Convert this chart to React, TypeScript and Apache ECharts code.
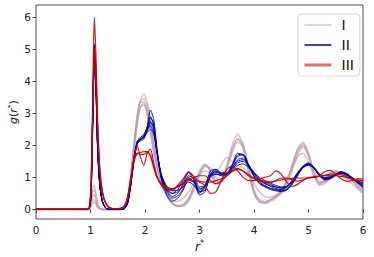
import React, { useEffect, useRef } from "react";
import * as echarts from "echarts";

// r* sample positions shared by all curves
const R = [
  0, 0.95, 0.98, 1.01, 1.04, 1.07, 1.1, 1.13, 1.17, 1.22,
  1.28, 1.35, 1.45, 1.55, 1.62, 1.68, 1.74, 1.8, 1.86, 1.92,
  1.98, 2.04, 2.1, 2.16, 2.22, 2.3, 2.4, 2.5, 2.6, 2.7,
  2.8, 2.9, 3.0, 3.1, 3.2, 3.3, 3.4, 3.5, 3.6, 3.7,
  3.8, 3.9, 4.0, 4.1, 4.2, 4.3, 4.4, 4.5, 4.6, 4.7,
  4.8, 4.9, 5.0, 5.1, 5.2, 5.3, 5.4, 5.5, 5.6, 5.7,
  5.8, 5.9, 6.0,
];

// Group I curves
const I1 = [
  0, 0, 0.05, 0.3, 0.65, 0.75, 0.5, 0.2, 0.05, 0,
  0, 0, 0, 0, 0.05, 0.3, 1.0, 2.0, 2.9, 3.45,
  3.6, 3.35, 2.8, 2.1, 1.5, 0.9, 0.45, 0.2, 0.1, 0.12,
  0.3, 0.7, 1.15, 1.4, 1.2, 0.8, 0.85, 1.35, 2.0, 2.35,
  2.0, 1.2, 0.5, 0.22, 0.2, 0.3, 0.4, 0.6, 0.9, 1.4,
  1.9, 2.1, 1.7, 1.1, 0.8, 0.9, 1.1, 1.2, 1.15, 1.0,
  0.9, 0.7, 0.5,
];
const I2 = [
  0, 0, 0.03, 0.2, 0.4, 0.45, 0.3, 0.12, 0.03, 0,
  0, 0, 0, 0, 0.06, 0.35, 1.1, 2.1, 2.95, 3.35,
  3.35, 3.0, 2.4, 1.8, 1.3, 0.8, 0.4, 0.18, 0.1, 0.15,
  0.35, 0.75, 1.2, 1.42, 1.2, 0.85, 0.9, 1.35, 1.9, 2.2,
  1.9, 1.15, 0.5, 0.25, 0.22, 0.3, 0.4, 0.55, 0.85, 1.3,
  1.8, 2.0, 1.65, 1.1, 0.78, 0.85, 1.05, 1.15, 1.15, 1.05,
  0.9, 0.72, 0.55,
];
const I3 = [
  0, 0, 0.02, 0.12, 0.28, 0.3, 0.2, 0.08, 0.02, 0,
  0, 0, 0, 0, 0.04, 0.25, 0.85, 1.8, 2.7, 3.2,
  3.3, 3.1, 2.6, 2.0, 1.45, 0.9, 0.45, 0.2, 0.1, 0.1,
  0.25, 0.6, 1.05, 1.35, 1.3, 1.0, 0.9, 1.25, 1.75, 2.1,
  1.95, 1.3, 0.6, 0.3, 0.25, 0.3, 0.38, 0.5, 0.75, 1.2,
  1.7, 1.95, 1.7, 1.2, 0.85, 0.85, 1.0, 1.1, 1.12, 1.05,
  0.92, 0.75, 0.6,
];
const I4 = [
  0, 0, 0.02, 0.1, 0.2, 0.22, 0.15, 0.06, 0.02, 0,
  0, 0, 0, 0, 0.05, 0.3, 0.95, 1.9, 2.75, 3.2,
  3.25, 2.95, 2.4, 1.8, 1.3, 0.85, 0.5, 0.3, 0.25, 0.35,
  0.55, 0.85, 1.1, 1.2, 1.15, 1.15, 1.4, 1.62, 1.5, 1.35,
  1.3, 1.1, 0.8, 0.55, 0.4, 0.38, 0.45, 0.6, 0.9, 1.3,
  1.65, 1.75, 1.45, 1.05, 0.85, 0.95, 1.15, 1.2, 1.1, 0.95,
  0.8, 0.65, 0.5,
];
const I5 = [
  0, 0, 0.04, 0.25, 0.55, 0.6, 0.4, 0.15, 0.04, 0,
  0, 0, 0, 0, 0.05, 0.32, 1.05, 2.05, 2.95, 3.4,
  3.45, 3.2, 2.65, 2.0, 1.4, 0.85, 0.42, 0.2, 0.12, 0.15,
  0.32, 0.68, 1.1, 1.35, 1.25, 0.9, 0.85, 1.3, 1.85, 2.2,
  2.05, 1.35, 0.6, 0.25, 0.18, 0.25, 0.35, 0.55, 0.85, 1.35,
  1.85, 2.05, 1.75, 1.15, 0.75, 0.8, 1.0, 1.15, 1.18, 1.1,
  0.95, 0.8, 0.6,
];

// Group II curves
const II1 = [
  0, 0, 0.05, 0.6, 3.0, 5.15, 4.0, 2.0, 0.8, 0.25,
  0.05, 0, 0, 0, 0.02, 0.2, 0.8, 1.6, 2.1, 2.2,
  2.3, 2.6, 3.1, 2.8, 1.9, 1.0, 0.6, 0.4, 0.5, 0.8,
  1.15, 0.9, 0.5, 0.7, 1.2, 1.25, 1.15, 1.15, 1.4, 1.75,
  1.7, 1.35, 1.05, 0.85, 0.75, 0.65, 0.6, 0.6, 0.62, 0.8,
  1.1, 1.35, 1.45, 1.3, 1.05, 0.95, 1.0, 1.1, 1.18, 1.1,
  0.95, 0.85, 0.75,
];
const II2 = [
  0, 0, 0.03, 0.4, 2.5, 4.6, 3.8, 1.9, 0.75, 0.22,
  0.04, 0, 0, 0, 0.02, 0.18, 0.75, 1.55, 2.05, 2.15,
  2.25, 2.45, 2.75, 2.55, 1.8, 1.05, 0.65, 0.5, 0.55, 0.75,
  1.0, 0.85, 0.6, 0.75, 1.1, 1.2, 1.1, 1.1, 1.3, 1.55,
  1.6, 1.35, 1.1, 0.9, 0.8, 0.72, 0.65, 0.62, 0.68, 0.85,
  1.1, 1.3, 1.4, 1.28, 1.05, 0.95, 0.98, 1.08, 1.15, 1.1,
  1.0, 0.88, 0.78,
];
const II3 = [
  0, 0, 0.04, 0.5, 2.8, 4.9, 3.9, 2.0, 0.8, 0.24,
  0.04, 0, 0, 0, 0.02, 0.2, 0.82, 1.65, 2.15, 2.25,
  2.35, 2.5, 2.6, 2.4, 1.75, 1.05, 0.7, 0.58, 0.6, 0.7,
  0.85, 0.75, 0.55, 0.7, 1.05, 1.15, 1.1, 1.1, 1.25, 1.45,
  1.5, 1.35, 1.12, 0.95, 0.85, 0.78, 0.7, 0.66, 0.7, 0.88,
  1.12, 1.32, 1.42, 1.3, 1.08, 0.98, 1.0, 1.08, 1.14, 1.08,
  0.98, 0.9, 0.82,
];
const II4 = [
  0, 0, 0.04, 0.45, 2.6, 4.5, 3.7, 1.9, 0.75, 0.22,
  0.04, 0, 0, 0, 0.02, 0.18, 0.78, 1.6, 2.1, 2.2,
  2.25, 2.5, 2.85, 2.7, 1.85, 0.95, 0.45, 0.25, 0.35, 0.6,
  0.95, 0.85, 0.45, 0.55, 1.05, 1.2, 1.1, 1.1, 1.35, 1.65,
  1.7, 1.4, 1.05, 0.8, 0.7, 0.62, 0.58, 0.55, 0.6, 0.78,
  1.05, 1.32, 1.42, 1.3, 1.05, 0.92, 0.95, 1.06, 1.15, 1.12,
  0.98, 0.82, 0.68,
];
const II5 = [
  0, 0, 0.03, 0.45, 2.7, 4.8, 3.85, 1.95, 0.78, 0.24,
  0.04, 0, 0, 0, 0.02, 0.2, 0.8, 1.58, 2.08, 2.2,
  2.3, 2.55, 2.9, 2.6, 1.8, 1.05, 0.62, 0.5, 0.62, 0.9,
  1.15, 1.0, 0.7, 0.75, 1.05, 1.1, 1.05, 1.08, 1.3, 1.5,
  1.55, 1.4, 1.15, 0.95, 0.82, 0.74, 0.7, 0.68, 0.72, 0.9,
  1.15, 1.35, 1.42, 1.32, 1.1, 0.98, 0.98, 1.06, 1.12, 1.08,
  0.95, 0.85, 0.72,
];
const II6 = [
  0, 0, 0.04, 0.5, 2.9, 5.0, 3.95, 2.0, 0.8, 0.25,
  0.05, 0, 0, 0, 0.02, 0.22, 0.85, 1.62, 2.12, 2.2,
  2.28, 2.4, 2.5, 2.35, 1.8, 1.1, 0.72, 0.62, 0.7, 0.8,
  0.92, 0.85, 0.65, 0.7, 1.0, 1.1, 1.08, 1.1, 1.22, 1.38,
  1.42, 1.3, 1.15, 1.0, 0.9, 0.82, 0.75, 0.7, 0.72, 0.88,
  1.12, 1.3, 1.38, 1.3, 1.1, 1.0, 1.02, 1.08, 1.12, 1.06,
  0.96, 0.88, 0.8,
];
const II7 = [
  0, 0, 0.03, 0.42, 2.55, 4.6, 3.75, 1.92, 0.77, 0.23,
  0.04, 0, 0, 0, 0.02, 0.19, 0.78, 1.55, 2.05, 2.15,
  2.2, 2.45, 2.7, 2.5, 1.75, 0.98, 0.55, 0.35, 0.42, 0.65,
  1.05, 0.95, 0.55, 0.6, 1.1, 1.25, 1.12, 1.12, 1.38, 1.7,
  1.72, 1.38, 1.02, 0.82, 0.72, 0.66, 0.62, 0.58, 0.62, 0.82,
  1.08, 1.3, 1.4, 1.28, 1.06, 0.95, 0.98, 1.08, 1.16, 1.12,
  0.98, 0.84, 0.7,
];

// Group III curves
const III1 = [
  0, 0, 0.1, 0.8, 3.5, 6.0, 4.8, 2.8, 1.3, 0.55,
  0.2, 0.06, 0.02, 0.03, 0.1, 0.35, 0.9, 1.5, 1.75, 1.78,
  1.8, 1.8, 1.65, 1.3, 1.0, 0.8, 0.7, 0.65, 0.7, 0.8,
  0.9, 0.9, 0.88, 0.85, 0.85, 0.9, 0.95, 1.05, 1.18, 1.25,
  1.2, 1.08, 0.98, 0.92, 0.88, 0.86, 0.88, 0.92, 0.95, 0.97,
  0.98, 0.98, 0.98, 1.0, 1.03, 1.06, 1.1, 1.1, 1.08, 1.02,
  0.95, 0.92, 0.9,
];
const III2 = [
  0, 0, 0.08, 0.6, 2.9, 4.9, 4.1, 2.5, 1.2, 0.5,
  0.18, 0.05, 0.02, 0.03, 0.1, 0.38, 1.0, 1.65, 1.95, 1.6,
  1.38, 1.75, 1.88, 1.45, 1.05, 0.75, 0.6, 0.6, 0.75, 0.95,
  1.18, 1.02, 0.85, 0.75, 0.5, 0.55, 0.9, 1.25, 1.35, 1.2,
  1.0, 0.9, 0.9, 0.95, 1.0, 1.05, 1.2, 1.1, 0.85, 0.72,
  0.78, 0.9, 1.0, 1.0, 1.05, 1.18, 1.22, 1.1, 0.95, 0.88,
  0.9, 0.95, 0.95,
];
const III3 = [
  0, 0, 0.09, 0.7, 3.1, 5.0, 4.4, 2.7, 1.25, 0.52,
  0.19, 0.06, 0.02, 0.03, 0.1, 0.36, 0.95, 1.55, 1.75, 1.72,
  1.72, 1.78, 1.7, 1.35, 1.0, 0.78, 0.65, 0.62, 0.72, 0.85,
  0.95, 1.0, 1.05, 1.05, 0.9, 0.8, 0.88, 1.05, 1.2, 1.28,
  1.2, 1.05, 0.95, 0.88, 0.84, 0.84, 0.9, 0.98, 0.98, 0.92,
  0.88, 0.92, 0.98, 1.02, 1.05, 1.06, 1.05, 1.05, 1.03, 1.0,
  0.95, 0.9, 0.88,
];

const GROUP_I = [I1, I2, I3, I4, I5];
const GROUP_II = [II1, II2, II3, II4, II5, II6, II7];
const GROUP_III = [III1, III2, III3];
const LEGEND_NAMES = ["I", "II", "III"];
const X_TICKS = [0, 1, 2, 3, 4, 5, 6];
const Y_TICKS = [0, 1, 2, 3, 4, 5, 6];

const FONT = "DejaVu Sans";

function mk(name: string, vals: number[], color: string, width: number, opacity: number, z: number) {
  return {
    type: "line",
    name,
    data: R.map((r, i) => [r, vals[i]]),
    showSymbol: false,
    symbol: "none",
    smooth: 0.25,
    silent: true,
    z,
    lineStyle: { color, width, opacity },
    itemStyle: { color },
  };
}

export default function App() {
  const ref = useRef<HTMLDivElement>(null);
  useEffect(() => {
    if (!ref.current) return;
    const chart = echarts.init(ref.current, null, { renderer: "svg" });
    const series: any[] = [];
    GROUP_I.forEach((v) => series.push(mk(LEGEND_NAMES[0], v, "#b89aab", 1.5, 0.6, 2)));
    GROUP_II.forEach((v) => series.push(mk(LEGEND_NAMES[1], v, "#0000a0", 1, 0.9, 3)));
    GROUP_III.forEach((v) => series.push(mk(LEGEND_NAMES[2], v, "#c80000", 1.2, 0.9, 4)));
    const hidden = { opacity: 0, color: "transparent", borderWidth: 0 };
    chart.setOption({
      animation: false,
      backgroundColor: "#ffffff",
      textStyle: { fontFamily: FONT },
      grid: {
        left: 36,
        right: 11,
        top: 5,
        bottom: 38,
        containLabel: false,
        outerBoundsMode: "none",
        show: true,
        borderColor: "#222",
        borderWidth: 0.8,
        backgroundColor: "transparent",
      },
      legend: {
        orient: "vertical",
        left: 298,
        top: 14,
        itemWidth: 27,
        itemHeight: 14,
        itemGap: 6,
        padding: [4, 6, 4, 5],
        borderColor: "#d6d6d6",
        borderWidth: 1,
        borderRadius: 3,
        backgroundColor: "rgba(255,255,255,0.8)",
        selectedMode: false,
        textStyle: { fontFamily: FONT, fontSize: 14, color: "#111", padding: [0, 0, 0, 5] },
        data: [
          { name: "I", itemStyle: hidden, lineStyle: { color: "#dcc4cc", width: 1.5, opacity: 1 } },
          { name: "II", itemStyle: hidden, lineStyle: { color: "#0000a0", width: 1.5, opacity: 1 } },
          { name: "III", itemStyle: hidden, lineStyle: { color: "#d8706c", width: 3, opacity: 1 } },
        ],
      },
      xAxis: {
        type: "value",
        min: 0,
        max: 6,
        interval: 1,
        name: "{i|r}{s|*}",
        nameLocation: "middle",
        nameGap: 17,
        nameTextStyle: {
          rich: {
            i: { fontFamily: FONT, fontStyle: "italic", fontSize: 12, color: "#111" },
            s: { fontFamily: FONT, fontSize: 8, color: "#111", verticalAlign: "top", padding: [0, 0, 6, 0] },
          },
        },
        axisLine: { show: false },
        axisTick: { show: true, inside: false, length: 3.5, lineStyle: { color: "#222", width: 0.8 }, customValues: X_TICKS },
        axisLabel: { fontFamily: FONT, fontSize: 10.5, color: "#222", margin: 5, customValues: X_TICKS },
        splitLine: { show: false },
      },
      yAxis: {
        type: "value",
        min: -0.3,
        max: 6.38,
        name: "{i|g}{n|(}{i|r}{s|*}{n|)}",
        nameLocation: "middle",
        nameRotate: 90,
        nameGap: 16,
        nameMoveOverlap: false,
        nameTextStyle: {
          rich: {
            i: { fontFamily: FONT, fontStyle: "italic", fontSize: 11, color: "#111" },
            n: { fontFamily: FONT, fontSize: 11, color: "#111" },
            s: { fontFamily: FONT, fontSize: 7.5, color: "#111", padding: [0, 0, 6, 0] },
          },
        },
        axisLine: { show: false },
        axisTick: { show: true, inside: false, length: 3.5, lineStyle: { color: "#222", width: 0.8 }, customValues: Y_TICKS },
        axisLabel: { fontFamily: FONT, fontSize: 10.5, color: "#222", margin: 5, customValues: Y_TICKS },
        splitLine: { show: false },
      },
      series,
    });
    return () => chart.dispose();
  }, []);
  return (
    <div
      ref={ref}
      style={{ position: "fixed", left: 0, top: 0, width: 374, height: 257, background: "#fff" }}
    />
  );
}
